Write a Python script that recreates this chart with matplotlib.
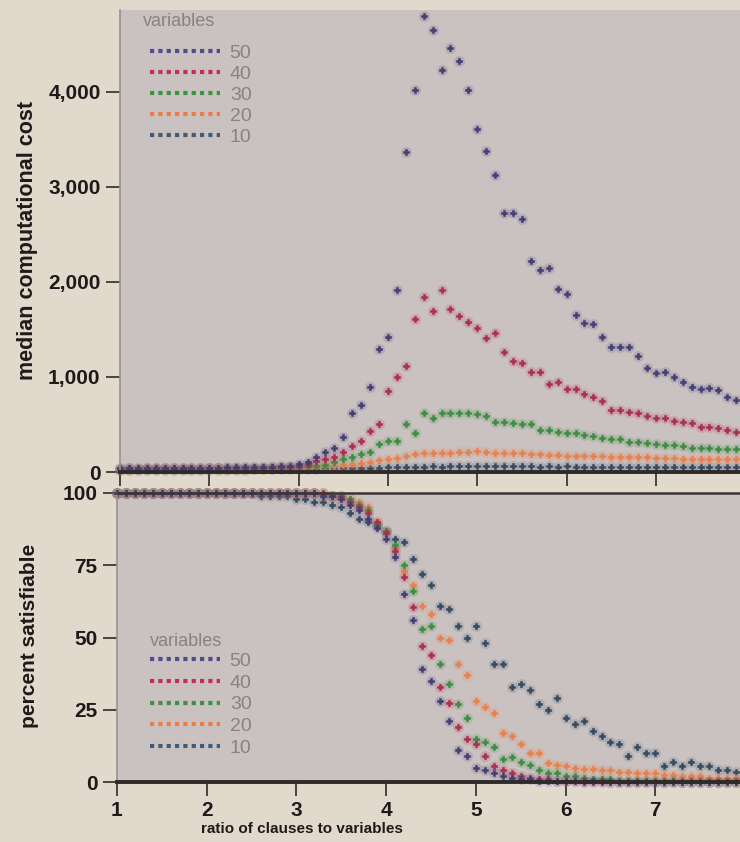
import numpy as np
import matplotlib.pyplot as plt
from matplotlib.lines import Line2D
from matplotlib.ticker import FuncFormatter

plt.rcParams['font.family'] = ['Liberation Sans', 'DejaVu Sans']

# ratio of clauses to variables, step 0.1
ratio = np.round(np.arange(1.0, 8.01, 0.1), 1)
sizes = ["50", "40", "30", "20", "10"]
colors = {"50": "#4e4c8a", "40": "#c22e55", "30": "#3c9440",
          "20": "#f07a45", "10": "#3f5c78"}
dot_colors = {"50": "#433e70", "40": "#a62f50", "30": "#3f8a42",
              "20": "#e8804e", "10": "#36495e"}

# median computational cost
cost_50 = [40, 42, 41, 43, 42, 44, 43, 45, 44, 46,
           46, 47, 48, 48, 50, 52, 54, 57, 60, 66,
           85, 110, 160, 210, 250, 370, 620, 705, 895, 1295,
           1420, 1915, 3370, 4020, 4800, 4650, 4230, 4465, 4325, 4020,
           3610, 3380, 3125, 2730, 2730, 2660, 2220, 2125, 2145, 1925,
           1875, 1650, 1565, 1560, 1420, 1320, 1315, 1320, 1220, 1095,
           1040, 1055, 1000, 950, 895, 870, 880, 860, 790, 760,
           740]
cost_40 = [36, 37, 36, 38, 37, 38, 39, 38, 40, 40,
           41, 41, 42, 43, 44, 45, 47, 49, 52, 56,
           68, 88, 115, 140, 160, 210, 275, 325, 430, 505,
           850, 1000, 1115, 1610, 1840, 1695, 1915, 1715, 1640, 1580,
           1515, 1410, 1465, 1265, 1170, 1150, 1050, 1050, 925, 950,
           870, 870, 820, 790, 750, 650, 650, 635, 620, 590,
           570, 570, 540, 530, 515, 475, 470, 460, 440, 420,
           410]
cost_30 = [32, 32, 33, 33, 34, 34, 35, 35, 36, 36,
           37, 37, 38, 39, 40, 41, 42, 44, 46, 50,
           56, 62, 68, 75, 110, 140, 160, 190, 210, 295,
           325, 325, 505, 410, 620, 570, 620, 625, 625, 625,
           610, 585, 525, 525, 515, 510, 510, 440, 440, 420,
           410, 410, 390, 375, 360, 350, 350, 320, 320, 310,
           295, 285, 285, 275, 250, 250, 250, 240, 240, 240,
           235]
cost_20 = [26, 26, 27, 27, 28, 28, 28, 29, 29, 30,
           30, 31, 31, 32, 32, 33, 34, 35, 37, 39,
           42, 46, 52, 58, 64, 75, 85, 95, 110, 125,
           140, 150, 165, 185, 200, 200, 205, 205, 215, 215,
           225, 215, 205, 205, 200, 195, 185, 185, 175, 175,
           170, 170, 165, 165, 165, 155, 155, 155, 155, 155,
           150, 150, 150, 140, 140, 140, 140, 140, 140, 140,
           138]
cost_10 = [20, 20, 21, 21, 22, 22, 22, 23, 23, 24,
           24, 25, 25, 26, 26, 27, 28, 29, 30, 31,
           32, 34, 36, 38, 40, 42, 44, 45, 46, 47,
           48, 50, 52, 54, 55, 58, 56, 58, 60, 58,
           62, 60, 58, 60, 62, 58, 60, 57, 58, 56,
           58, 56, 57, 55, 56, 55, 55, 54, 55, 54,
           54, 53, 54, 53, 52, 53, 52, 52, 51, 51,
           50]

# percent satisfiable
sat_50 = [100, 100, 100, 100, 100, 100, 100, 100, 100, 100,
          100, 100, 100, 100, 100, 100, 100, 100, 100, 100,
          100, 100, 100, 99, 99, 98, 96, 94, 91, 88,
          84, 78, 65, 56, 39, 35, 28, 21, 11, 9,
          5, 4, 3, 2, 1.5, 1, 1, 0.5, 0.5, 0.5,
          0.5, 0.5, 0, 0.5, 0, 0, 0, 0, 0, 0,
          0, 0, 0, 0, 0, 0, 0, 0, 0, 0,
          0]
sat_40 = [100, 100, 100, 100, 100, 100, 100, 100, 100, 100,
          100, 100, 100, 100, 100, 100, 100, 100, 100, 100,
          100, 100, 100, 100, 99, 99, 97, 95, 93, 90,
          86, 80, 71, 60.5, 47, 44, 33, 27.5, 19, 15,
          13, 9, 5.5, 4, 3, 2, 1.5, 1, 1, 0.5,
          0.5, 0.5, 0.5, 0, 0.5, 0, 0, 0, 0, 0,
          0, 0, 0, 0, 0, 0, 0, 0, 0, 0,
          0]
sat_30 = [100, 100, 100, 100, 100, 100, 100, 100, 100, 100,
          100, 100, 100, 100, 100, 100, 100, 100, 100, 100,
          100, 100, 100, 100, 99, 99, 98, 96, 94, 89,
          87, 82, 75, 66, 53, 54, 41, 34, 27, 22,
          15, 14, 12, 8, 8.5, 7, 6, 4, 3, 3,
          2, 2, 1.5, 1, 1, 1, 0.5, 0.5, 0.5, 0.5,
          0.5, 0, 0.5, 0, 0, 0, 0, 0, 0, 0,
          0]
sat_20 = [100, 100, 100, 100, 100, 100, 100, 100, 100, 100,
          100, 100, 100, 100, 100, 100, 100, 100, 100, 100,
          100, 100, 100, 99, 99, 98, 98, 97, 95, 90,
          87, 81, 73, 68, 61, 58, 50, 49, 41, 37,
          28, 26, 24, 17, 16, 13, 10, 10, 6.5, 6,
          5.5, 5, 4.5, 4.5, 4, 4, 3.5, 3.5, 3, 3,
          3, 2.5, 2.5, 2, 2, 2, 1.5, 1.5, 1.5, 1.5,
          1]
sat_10 = [100, 100, 100, 100, 100, 100, 100, 100, 100, 100,
          100, 100, 100, 100, 100, 100, 99, 99, 99, 99,
          98, 98, 97, 97, 96, 95, 93, 91, 90, 89,
          87, 84, 83, 77, 72, 68, 61, 60, 54, 50,
          54, 48, 41, 41, 33, 34, 32, 27, 25, 29,
          22, 20, 21, 17.5, 16, 14, 13, 9, 12, 10,
          10, 5.5, 7, 5.5, 7, 5.5, 5.5, 4, 4, 3.5,
          3]

cost = {"50": cost_50, "40": cost_40, "30": cost_30, "20": cost_20, "10": cost_10}
sat = {"50": sat_50, "40": sat_40, "30": sat_30, "20": sat_20, "10": sat_10}

fig_bg = "#e0d9cc"
ax_bg = "#cac2c1"
dark = "#2e2a2a"
label_col = "#1e1a1a"
legend_col = "#8a8282"

fig = plt.figure(figsize=(7.4, 8.42), dpi=100)
fig.patch.set_facecolor(fig_bg)

ax1 = fig.add_axes([120 / 740, 1 - 472 / 842, 652 / 740, 462 / 842])
ax2 = fig.add_axes([117 / 740, 1 - 782 / 842, 655 / 740, 289 / 842])

for n in ["10", "20", "30", "40", "50"]:
    for ax, vals in ((ax1, cost[n]), (ax2, sat[n])):
        # soft halo, then the point itself
        ax.plot(ratio, vals, linestyle="none", marker="o", ms=8,
                color=colors[n], alpha=0.18, mew=0, clip_on=False)
        ax.plot(ratio, vals, linestyle="none", marker="P", ms=4.5,
                color=dot_colors[n], mec=dot_colors[n], mew=0.4, clip_on=False)

ax1.set_xlim(1, 8.3)
ax1.set_ylim(0, 4863)
ax2.set_xlim(1, 8.3)
ax2.set_ylim(0, 100)

for ax in (ax1, ax2):
    ax.set_facecolor(ax_bg)
    ax.spines["right"].set_visible(False)
    ax.spines["left"].set_color("#9a9292")
    ax.spines["left"].set_linewidth(1.2)
    ax.spines["bottom"].set_color(dark)
    ax.spines["bottom"].set_linewidth(2.8)
    ax.spines["bottom"].set_zorder(5)
    ax.set_xticks(range(1, 9))
    ax.tick_params(direction="out", length=10, width=1.2, colors=dark,
                   labelsize=15, pad=4)

ax1.spines["top"].set_visible(False)
ax2.spines["top"].set_color("#3a3535")
ax2.spines["top"].set_linewidth(1.8)

ax1.set_yticks([0, 1000, 2000, 3000, 4000])
ax1.yaxis.set_major_formatter(FuncFormatter(lambda v, p: f"{int(v):,}"))
ax1.tick_params(axis="x", labelbottom=False)
ax2.set_yticks([0, 25, 50, 75, 100])
# the "8" sits past the cropped right edge
ax2.set_xticklabels(["1", "2", "3", "4", "5", "6", "7", ""])
for ax in (ax1, ax2):
    for lab in ax.get_yticklabels() + ax.get_xticklabels():
        lab.set_fontweight("bold")
        lab.set_color(label_col)

fig.text(28 / 740, 1 - 240 / 842, "median computational cost", rotation=90,
         ha="center", va="center", fontsize=15.5, fontweight="bold", color=label_col)
fig.text(30 / 740, 1 - 636 / 842, "percent satisfiable", rotation=90,
         ha="center", va="center", fontsize=15, fontweight="bold", color=label_col)
fig.text(302 / 740, 1 - 829 / 842, "ratio of clauses to variables",
         ha="center", va="center", fontsize=11, fontweight="bold", color=label_col)

handles = [Line2D([], [], color=colors[n], linestyle=(0, (1, 1)), linewidth=3)
           for n in sizes]
legend_spots = ((ax1, (143, 22), (150, 44), 0.18),
                (ax2, (150, 641), (150, 652), 0.22))
for ax, (tx, ty), (lx, ly), spacing in legend_spots:
    leg = ax.legend(handles, sizes, loc="upper left",
                    bbox_to_anchor=(lx / 740, 1 - ly / 842),
                    bbox_transform=fig.transFigure,
                    frameon=False, fontsize=14,
                    handlelength=3.6, handletextpad=0.5, labelspacing=spacing,
                    borderpad=0, borderaxespad=0)
    for t in leg.get_texts():
        t.set_color(legend_col)
    fig.text(tx / 740, 1 - ty / 842, "variables", ha="left", va="center",
             fontsize=13, color=legend_col)

fig.savefig("out.png", dpi=100, facecolor=fig.get_facecolor())
